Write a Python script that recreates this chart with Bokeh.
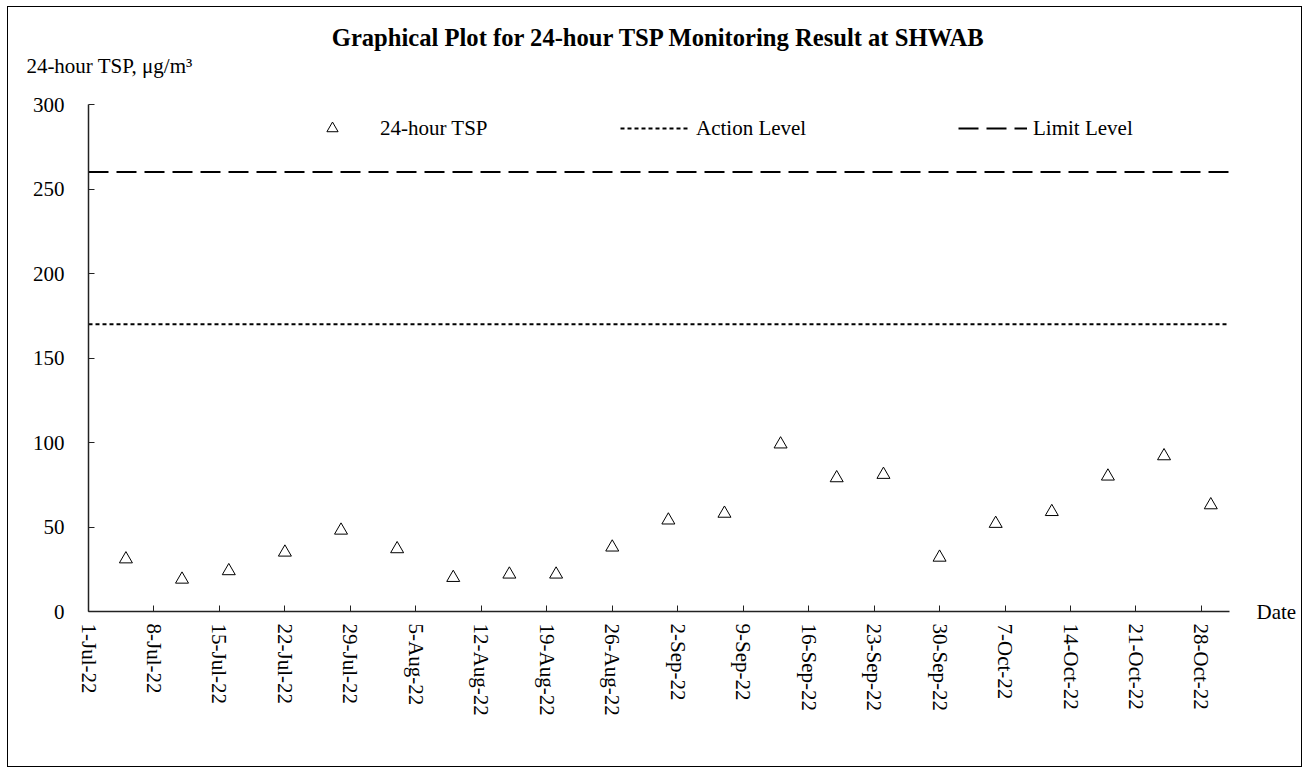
import pandas as pd
from bokeh.plotting import figure
from bokeh.models import (Range1d, FixedTicker, Legend, LegendItem, ColumnDataSource,
                          Title, LinearAxis)
from bokeh.embed import file_html
from bokeh.resources import INLINE
import math

# ---------------- data ----------------
sample_dates = ["2022-07-05", "2022-07-11", "2022-07-16", "2022-07-22", "2022-07-28",
                "2022-08-03", "2022-08-09", "2022-08-15", "2022-08-20", "2022-08-26",
                "2022-09-01", "2022-09-07", "2022-09-13", "2022-09-19", "2022-09-24",
                "2022-09-30", "2022-10-06", "2022-10-12", "2022-10-18", "2022-10-24",
                "2022-10-29"]
tsp_values = [31, 19, 24, 35, 48, 37, 20, 22, 22, 38, 54, 58, 99, 79, 81,
              32, 52, 59, 80, 92, 63]
action_level = 170
limit_level = 260
tick_dates = ["2022-07-01", "2022-07-08", "2022-07-15", "2022-07-22", "2022-07-29",
              "2022-08-05", "2022-08-12", "2022-08-19", "2022-08-26", "2022-09-02",
              "2022-09-09", "2022-09-16", "2022-09-23", "2022-09-30", "2022-10-07",
              "2022-10-14", "2022-10-21", "2022-10-28"]
tick_labels = ["1-Jul-22", "8-Jul-22", "15-Jul-22", "22-Jul-22", "29-Jul-22",
               "5-Aug-22", "12-Aug-22", "19-Aug-22", "26-Aug-22", "2-Sep-22",
               "9-Sep-22", "16-Sep-22", "23-Sep-22", "30-Sep-22", "7-Oct-22",
               "14-Oct-22", "21-Oct-22", "28-Oct-22"]
y_ticks = [0, 50, 100, 150, 200, 250, 300]
x_start = "2022-07-01"
x_end = "2022-10-31"

TITLE = "Graphical Plot for 24-hour TSP Monitoring Result at SHWAB"
Y_LABEL = "24-hour TSP, μg/m³"
X_LABEL = "Date"

FONT = "Liberation Serif"

def ms(d):
    return int(pd.Timestamp(d).timestamp() * 1000)

# anchor of the y-axis caption (centre of its text, just right of the y axis)
ylabel_anchor = ms("2022-07-01") + int(2.25 * 86400000)

W, H = 1295, 761
p = figure(width=W, height=H, x_axis_type="datetime", title=None,
           output_backend="svg", toolbar_location=None,
           x_range=Range1d(pd.Timestamp(x_start), pd.Timestamp(x_end)),
           y_range=Range1d(0, 300),
           min_border_left=80, min_border_right=74,
           min_border_top=97, min_border_bottom=157)
p.styles = {"margin-left": "7px", "margin-top": "6px",
            "border": "1.5px solid black"}
p.outline_line_color = None
p.xgrid.visible = False
p.ygrid.visible = False
p.background_fill_color = "white"
p.border_fill_color = "white"

src = ColumnDataSource(dict(x=pd.to_datetime(sample_dates), y=tsp_values))
r_pts = p.scatter("x", "y", source=src, marker="triangle", size=13,
                  fill_color=None, line_color="black", line_width=1)

xs = [pd.Timestamp(x_start), pd.Timestamp(x_end)]
r_act = p.line(xs, [action_level, action_level], line_color="black",
               line_width=2, line_dash="4 3")
r_lim = p.line(xs, [limit_level, limit_level], line_color="black",
               line_width=2, line_dash="20 8")

# axes
xa = p.xaxis[0]
xa.ticker = FixedTicker(ticks=[ms(d) for d in tick_dates])
xa.major_label_overrides = {ms(d): lab for d, lab in zip(tick_dates, tick_labels)}
xa.major_label_orientation = -math.pi / 2
xa.major_tick_in = 6
xa.major_tick_out = 0
xa.minor_tick_line_color = None
xa.major_label_standoff = 12
xa.axis_line_color = "#222222"
xa.axis_line_width = 1.5
xa.major_tick_line_color = "#222222"
xa.major_label_text_font = FONT
xa.major_label_text_font_size = "21px"
xa.major_label_text_color = "black"

ya = p.yaxis[0]
ya.ticker = FixedTicker(ticks=y_ticks)
ya.major_tick_in = 6
ya.major_tick_out = 0
ya.minor_tick_line_color = None
ya.major_label_standoff = 24
ya.axis_line_color = "#222222"
ya.axis_line_width = 1.5
ya.major_tick_line_color = "#222222"
ya.major_label_text_font = FONT
ya.major_label_text_font_size = "21px"
ya.major_label_text_color = "black"

# "Date" caption at the right end of the x axis (a bare right axis with one label)
date_axis = LinearAxis(ticker=FixedTicker(ticks=[0]),
                       major_label_overrides={0: X_LABEL},
                       axis_line_color=None, major_tick_line_color=None,
                       major_tick_in=0, major_tick_out=0,
                       minor_tick_line_color=None, major_label_standoff=27,
                       major_label_text_font=FONT,
                       major_label_text_font_size="21px",
                       major_label_text_color="black")
p.add_layout(date_axis, "right")

# y-axis caption above the plot's top-left corner (a bare top axis with one label)
ylab_axis = LinearAxis(ticker=FixedTicker(ticks=[ylabel_anchor]),
                       major_label_overrides={ylabel_anchor: Y_LABEL},
                       axis_line_color=None, major_tick_line_color=None,
                       major_tick_in=0, major_tick_out=0,
                       minor_tick_line_color=None, major_label_standoff=27,
                       major_label_text_font=FONT,
                       major_label_text_font_size="21px",
                       major_label_text_color="black")
p.add_layout(ylab_axis, "above")

# legends (three separate single-item legends laid out on one row)
def add_legend(label, rend, x, gw, standoff):
    lg = Legend(items=[LegendItem(label=label, renderers=[rend])],
                location=(x, 469), orientation="horizontal",
                border_line_color=None, background_fill_alpha=0,
                padding=0, margin=0, spacing=0,
                glyph_width=gw, glyph_height=28, label_height=24,
                label_standoff=standoff, label_text_font=FONT,
                label_text_font_size="21px", label_text_color="black")
    p.add_layout(lg)

add_legend("24-hour TSP", r_pts, 230, 28, 34)
add_legend("Action Level", r_act, 532, 70, 6)
add_legend("Limit Level", r_lim, 870, 69, 6)

# main title
p.add_layout(Title(text=TITLE, align="center", standoff=0,
                   text_font=FONT, text_font_size="24.6px",
                   text_font_style="bold", text_color="black"), "above")

open("out.html", "w").write(file_html(p, INLINE))
